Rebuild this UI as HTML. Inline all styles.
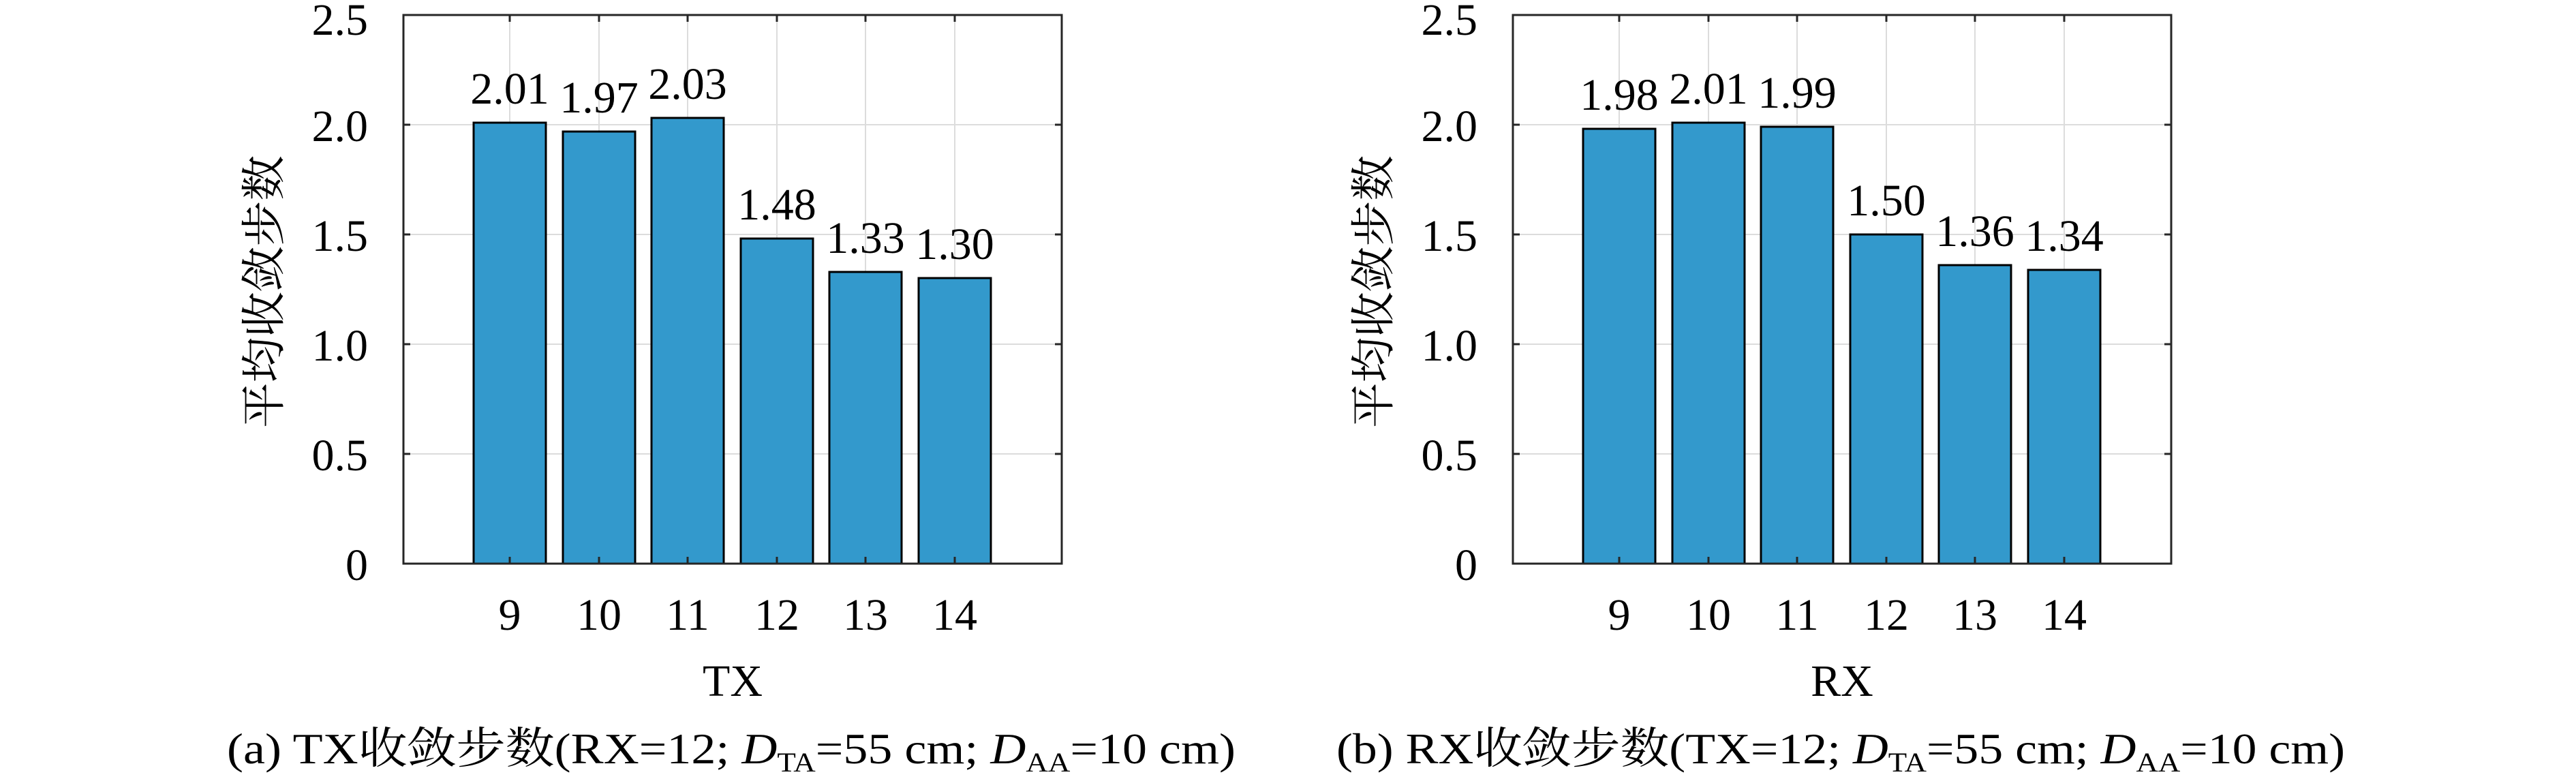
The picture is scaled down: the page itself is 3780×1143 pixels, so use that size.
<!DOCTYPE html>
<html><head><meta charset="utf-8"><style>
html,body{margin:0;padding:0;background:#fff;}
svg{display:block;}
text{font-family:"Liberation Serif","Noto Serif CJK SC",serif;fill:#000;}
</style></head><body>
<svg width="3780" height="1143" viewBox="0 0 3780 1143" xmlns="http://www.w3.org/2000/svg">
<defs>
<g id="frame">
  <g stroke="#dcdcdc" stroke-width="2">
    <line x1="592" y1="666" x2="1558" y2="666"/>
    <line x1="592" y1="505" x2="1558" y2="505"/>
    <line x1="592" y1="344" x2="1558" y2="344"/>
    <line x1="592" y1="183" x2="1558" y2="183"/>
    <line x1="748" y1="22" x2="748" y2="827"/>
    <line x1="879" y1="22" x2="879" y2="827"/>
    <line x1="1009" y1="22" x2="1009" y2="827"/>
    <line x1="1140" y1="22" x2="1140" y2="827"/>
    <line x1="1270" y1="22" x2="1270" y2="827"/>
    <line x1="1401" y1="22" x2="1401" y2="827"/>
  </g>
</g>
<g id="axes">
  <rect x="592" y="22" width="966" height="805" fill="none" stroke="#262626" stroke-width="3"/>
  <g stroke="#262626" stroke-width="3">
    <line x1="592" y1="666" x2="602" y2="666"/><line x1="1558" y1="666" x2="1548" y2="666"/>
    <line x1="592" y1="505" x2="602" y2="505"/><line x1="1558" y1="505" x2="1548" y2="505"/>
    <line x1="592" y1="344" x2="602" y2="344"/><line x1="1558" y1="344" x2="1548" y2="344"/>
    <line x1="592" y1="183" x2="602" y2="183"/><line x1="1558" y1="183" x2="1548" y2="183"/>
    <line x1="748" y1="22" x2="748" y2="32"/><line x1="879" y1="22" x2="879" y2="32"/>
    <line x1="1009" y1="22" x2="1009" y2="32"/><line x1="1140" y1="22" x2="1140" y2="32"/>
    <line x1="1270" y1="22" x2="1270" y2="32"/><line x1="1401" y1="22" x2="1401" y2="32"/>
    <line x1="748" y1="827" x2="748" y2="817"/><line x1="879" y1="827" x2="879" y2="817"/>
    <line x1="1009" y1="827" x2="1009" y2="817"/><line x1="1140" y1="827" x2="1140" y2="817"/>
    <line x1="1270" y1="827" x2="1270" y2="817"/><line x1="1401" y1="827" x2="1401" y2="817"/>
  </g>
  <g font-size="66" text-anchor="end">
    <text x="540" y="51">2.5</text>
    <text x="540" y="207">2.0</text>
    <text x="540" y="368">1.5</text>
    <text x="540" y="529">1.0</text>
    <text x="540" y="690">0.5</text>
    <text x="540" y="851">0</text>
  </g>
  <g font-size="66" text-anchor="middle">
    <text x="748" y="924">9</text>
    <text x="879" y="924">10</text>
    <text x="1009" y="924">11</text>
    <text x="1140" y="924">12</text>
    <text x="1270" y="924">13</text>
    <text x="1401" y="924">14</text>
  </g>
  <text transform="translate(410,428) rotate(-90)" font-size="66" text-anchor="middle" textLength="400" lengthAdjust="spacingAndGlyphs">平均收敛步数</text>
</g>
</defs>

<use href="#frame"/>
<g fill="#3399cc" stroke="#000" stroke-width="3">
  <rect x="695" y="180" width="106" height="647"/>
  <rect x="826" y="193" width="106" height="634"/>
  <rect x="956" y="173" width="106" height="654"/>
  <rect x="1087" y="350" width="106" height="477"/>
  <rect x="1217" y="399" width="106" height="428"/>
  <rect x="1348" y="408" width="106" height="419"/>
</g>
<use href="#axes"/>
<g font-size="66" text-anchor="middle">
  <text x="748" y="152">2.01</text>
  <text x="879" y="165">1.97</text>
  <text x="1009" y="145">2.03</text>
  <text x="1140" y="322">1.48</text>
  <text x="1270" y="371">1.33</text>
  <text x="1401" y="380">1.30</text>
</g>
<text x="1075" y="1021" font-size="66" text-anchor="middle">TX</text>
<text x="333" y="1120" font-size="64" textLength="1480" lengthAdjust="spacingAndGlyphs">(a) TX收敛步数(RX=12; <tspan font-style="italic">D</tspan><tspan font-size="40" dy="12">TA</tspan><tspan dy="-12">=55 cm; </tspan><tspan font-style="italic">D</tspan><tspan font-size="40" dy="12">AA</tspan><tspan dy="-12">=10 cm)</tspan></text>

<g transform="translate(1628,0)">
<use href="#frame"/>
<g fill="#3399cc" stroke="#000" stroke-width="3">
  <rect x="695" y="189" width="106" height="638"/>
  <rect x="826" y="180" width="106" height="647"/>
  <rect x="956" y="186" width="106" height="641"/>
  <rect x="1087" y="344" width="106" height="483"/>
  <rect x="1217" y="389" width="106" height="438"/>
  <rect x="1348" y="396" width="106" height="431"/>
</g>
<use href="#axes"/>
<g font-size="66" text-anchor="middle">
  <text x="748" y="161">1.98</text>
  <text x="879" y="152">2.01</text>
  <text x="1009" y="158">1.99</text>
  <text x="1140" y="316">1.50</text>
  <text x="1270" y="361">1.36</text>
  <text x="1401" y="368">1.34</text>
</g>
<text x="1075" y="1021" font-size="66" text-anchor="middle">RX</text>
<text x="333" y="1120" font-size="64" textLength="1480" lengthAdjust="spacingAndGlyphs">(b) RX收敛步数(TX=12; <tspan font-style="italic">D</tspan><tspan font-size="40" dy="12">TA</tspan><tspan dy="-12">=55 cm; </tspan><tspan font-style="italic">D</tspan><tspan font-size="40" dy="12">AA</tspan><tspan dy="-12">=10 cm)</tspan></text>
</g>
</svg>
</body></html>
